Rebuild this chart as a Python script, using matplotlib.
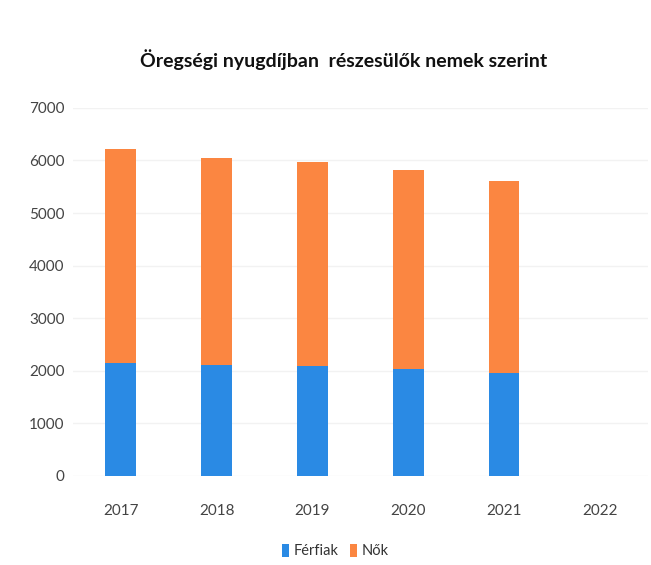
import matplotlib
matplotlib.use("Agg")
import matplotlib.pyplot as plt
import numpy as np

years = ["2017", "2018", "2019", "2020", "2021", "2022"]
ferfiak = [2150, 2100, 2080, 2030, 1950, 0]
nok_total = [6210, 6040, 5965, 5820, 5615, 0]
nok = [t - f for t, f in zip(nok_total, ferfiak)]
yticks = [0, 1000, 2000, 3000, 4000, 5000, 6000, 7000]

plt.rcParams['font.family'] = ['Lato', 'DejaVu Sans']

fig = plt.figure(figsize=(6.51, 5.65), dpi=100)
ax = fig.add_axes([0.112, 0.158, 0.883, 0.651])

x = np.arange(len(years))
blue = '#2a8ae4'
orange = '#fb8641'
ax.bar(x, ferfiak, width=0.32, color=blue, label='Férfiak', zorder=3)
ax.bar(x, nok, width=0.32, bottom=ferfiak, color=orange, label='Nők', zorder=3)

ax.set_xlim(-0.5, len(years) - 0.5)
ax.set_ylim(0, 7000)
ax.set_yticks(yticks)
ax.set_yticklabels([str(v) for v in yticks])
ax.set_xticks(x)
ax.set_xticklabels(years)
ax.tick_params(axis='both', length=0, colors='#444444', labelsize=11)
ax.tick_params(axis='x', pad=20)
ax.tick_params(axis='y', pad=6)
ax.yaxis.grid(True, color='#f2f2f2', linewidth=1, zorder=0)
for s in ax.spines.values():
    s.set_visible(False)

fig.suptitle('Öregségi nyugdíjban  részesülők nemek szerint', x=0.528, y=0.913,
             fontsize=14, fontweight='bold', color='#111111')

fig.legend(loc='center', bbox_to_anchor=(0.515, 0.025), ncol=2, frameon=False,
           fontsize=10.5, handlelength=0.5, handleheight=1.0, handletextpad=0.3,
           columnspacing=0.8, labelcolor='#333333')

fig.savefig('out.png', dpi=100)
